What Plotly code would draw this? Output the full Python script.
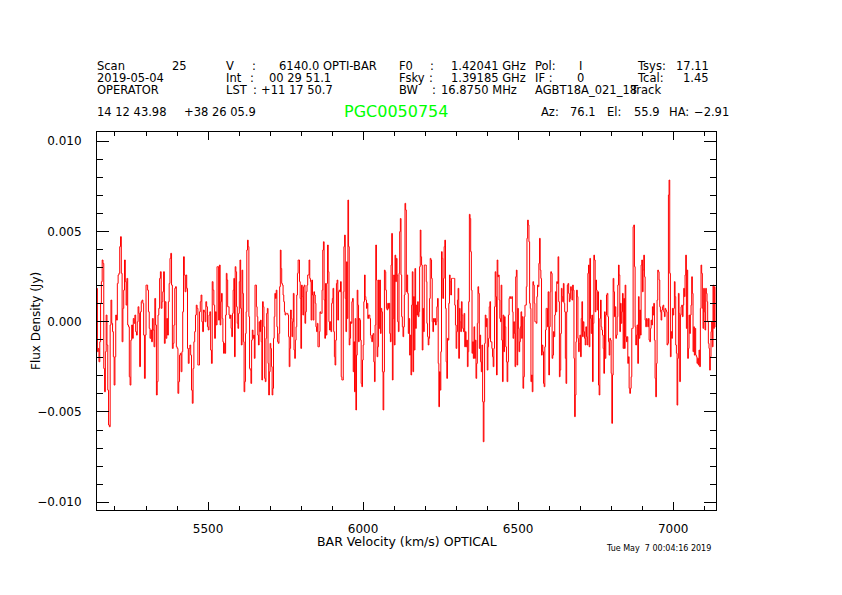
import numpy as np
import plotly.graph_objects as go

# spectrum in five pieces, flux in mJy
seg_edges = [5142, 5538, 5935, 6331, 6728, 7138]  # km/s

seg1_mjy = [1.85, -1.66, -1.48, -2.22, -1.11, 1.02, 2.22, 3.42, 3.23, -2.59,
            -3.88, -1.66, 0.37, -1.29, -3.79, -5.72, -5.82, -0.18, 1.20, -0.09,
            -0.55, -1.94, -3.51, -1.94, 0.37, 0.09, 2.12, 2.59, 2.68, 4.16,
            4.71, 2.68, -1.11, 0.74, 1.75, 3.42, 2.22, 0.92, 2.40, -0.18,
            -0.28, -3.05, -3.51, -1.02, -0.18, -0.92, 0.18, -0.09, 0.37, -0.55,
            -0.74, 0.00, 0.83, 0.46, -2.49, 0.55, 1.11, 1.20, 1.02, -0.74,
            -3.14, -0.74, 2.03, 2.03, 1.75, 0.55, -0.37, -0.92, -0.46, -1.11,
            0.18, -0.46, -1.39, 1.29, -0.18, -4.06, -3.32, 0.37, 0.74, 2.40,
            2.77, 0.74, 1.11, 1.66, 2.77, -1.20, 1.11, -0.92, 0.18, -0.74,
            1.11, 2.12, 3.51, 3.79, 2.03, -1.48, -1.20, -0.18, 1.85, 1.94,
            -1.39, -1.48, -3.97, -3.32, -1.85, -1.75, -2.77, -1.66, 0.55, 3.60,
            2.59, 1.66, 2.59, 1.85, -1.48, -2.31, -1.48, -1.29, -1.85, -3.79,
            -4.52, -2.59, -1.11, -0.55, 0.37, 0.92, 0.74, -2.40, -2.40, 0.55,
            1.11, 1.48, 0.00, -0.55, 0.65, 0.55, 0.00, 1.11, 0.83, -0.28,
            -0.46, 0.37, 0.55, -1.57, -2.31, 2.22, 1.75, 0.92, -0.92, 0.55,
            -0.18, 3.05, 3.05, 0.09]

seg2_mjy = [3.14, -0.18, 1.11, 1.57, 0.18, -1.11, -1.75, -1.20, -1.75, 0.37,
            2.68, 2.31, 0.83, 0.83, 0.37, 0.18, 0.37, -0.37, -0.83, 0.46,
            1.75, 2.40, -1.94, 3.05, 2.77, 0.83, -0.09, -0.37, 0.46, 2.22,
            3.42, 0.74, -1.29, 2.86, 1.57, -1.11, -3.88, -3.32, -0.65, 0.55,
            3.97, 4.52, 4.16, 0.28, -2.59, -2.68, -3.42, -1.02, -0.46, -0.92,
            -0.74, -2.03, 2.03, 2.03, 0.83, 0.28, -0.74, -1.29, 0.00, -0.55,
            0.09, -1.11, -3.23, 1.11, 0.83, -0.28, -3.14, -3.32, -0.92, 0.46,
            0.74, -2.31, -4.06, -2.77, -1.20, -1.48, -2.49, -4.06, -3.69, -0.92,
            0.28, 1.57, 1.29, 1.75, -0.28, -1.11, -1.20, -0.65, 1.94, 3.97,
            2.95, 2.12, 2.03, 1.48, 1.11, 0.55, 0.37, 0.46, 0.46, 0.46,
            0.37, -0.83, -2.49, -1.48, 0.65, 0.18, -0.83, 0.00, 1.57, -1.57,
            -2.03, -1.02, -0.28, 1.48, 2.68, 3.42, 3.42, 2.22, 1.29, -1.48,
            2.03, 1.39, 0.37, 1.94, 2.03, -0.09, 0.55, 1.66, 2.03, 2.59,
            2.59, 3.42, 2.40, 2.22, 0.09, 2.31, 1.48, 0.09, 1.66, 1.48,
            1.02, -0.28, -0.55, -0.09, -1.39, -1.39, -0.55, 0.55, 0.46, 0.46,
            1.75, 3.97, 4.43, 1.20, -0.92, 2.12, -0.74, 2.12, 4.25, 2.77,
            0.00, -0.46, 0.00, -0.55, 1.02, 1.29, 1.85, -0.55, -1.94, -2.40,
            -1.02, 2.12, 2.31, 0.09, 1.66, 1.75, 1.66, 2.22, -3.05, -3.23]

seg3_mjy = [-3.23, 1.66, 4.16, 4.80, 1.29, -0.55, 3.32, 0.18, 6.74, 4.16,
            -1.29, -0.92, 0.00, -0.09, 1.11, 1.29, -2.77, -1.11, -3.88, 0.18,
            -4.89, -1.85, 1.75, 0.92, -1.11, 0.18, 0.09, -1.02, -3.42, -3.60,
            -2.12, -1.29, 1.11, 2.59, 1.39, 1.20, 0.74, 1.02, 0.18, 0.37,
            0.37, 0.18, -0.74, -0.92, -1.11, -0.74, -0.65, -2.22, -3.32, -0.18,
            4.25, 2.31, -1.94, -1.39, 2.31, -0.37, 2.31, -0.65, 0.74, 0.55,
            -2.77, -4.89, -2.77, 2.86, 2.77, 1.75, 0.74, 0.65, 1.02, 0.74,
            1.02, -0.65, -1.11, 3.14, 4.89, -3.23, 0.18, 2.59, -1.29, 3.69,
            2.22, 3.51, 2.59, 0.00, -0.55, 2.68, 4.99, 5.72, 2.59, 0.28,
            -0.28, -0.83, -0.28, 1.48, 6.56, 6.19, 1.66, 2.59, 1.57, -0.65,
            0.18, -1.85, -0.74, -2.95, 0.92, 2.77, -2.77, 1.39, -1.57, 2.95,
            -0.37, 0.92, 0.37, 1.11, 0.28, 0.55, 3.05, 5.08, 3.60, 3.14,
            -1.57, 0.74, -0.55, 3.14, 3.14, 3.14, 2.22, -0.09, -0.83, -1.29,
            -0.92, 1.29, 3.51, 3.42, 2.40, 0.00, -0.55, 0.18, 0.00, 0.18,
            -0.18, 0.00, 0.83, 1.29, -2.31, -4.71, -2.77, -3.79, -1.66, 3.88,
            3.51, 1.29, 2.40, 4.16, 4.52, 0.74, -2.22, -3.14, -0.92, -1.02,
            1.02, 2.59, 2.22, 1.48, 2.40, 2.40, 2.40, 2.40, 2.40, 0.92,
            -0.18, -1.48, -0.55, 1.20, 1.85, -2.03, 0.74, 0.00, -0.55, 1.11,
            0.37, -0.37, -0.55, 0.46, -1.39]

seg4_mjy = [-0.55, -1.39, -1.02, -2.49, -1.66, 1.11, 5.95, 5.72, 3.88, 1.75,
            -1.75, -1.11, -2.03, -0.28, -2.03, -1.02, -3.14, -2.31, -0.09, 1.94,
            1.57, -1.48, -0.74, -2.22, -2.77, -1.29, -4.43, -6.65, -4.43, -1.20,
            0.37, -0.28, 0.18, -2.68, -1.39, -0.92, 0.83, 1.11, -1.11, -1.11,
            -1.48, -1.94, -2.49, -1.48, 0.83, 2.77, 1.39, -2.95, 3.42, 2.49,
            2.59, 1.20, 0.18, 0.00, 2.03, -1.02, -3.32, 0.37, -1.66, 0.28,
            -0.28, -1.39, -2.22, -3.32, -2.22, 0.37, 1.29, 1.39, 1.29, 1.29,
            1.39, 0.55, -0.92, 0.00, -0.65, -2.49, 2.49, 2.86, -2.40, 0.74,
            -0.37, -1.66, -1.11, -0.28, 0.55, -0.92, 0.28, -3.69, -3.05, 0.28,
            0.92, 0.92, 1.94, 4.62, 5.63, 5.36, 4.43, 1.02, 0.74, -3.32,
            -2.95, -3.88, 2.22, 2.03, 1.02, 0.00, 0.00, -0.09, 1.39, 2.03,
            1.94, 3.23, 4.62, 2.86, 2.40, -1.85, -1.29, -1.66, -3.42, -3.60,
            -1.39, -0.46, 0.74, 0.74, -0.28, 1.66, -2.95, -0.28, 1.66, 2.77,
            2.68, -2.03, -1.85, -0.55, -0.83, 0.37, 1.66, 0.55, 2.22, 2.12,
            3.60, 1.11, -3.05, -2.68, -0.65, 1.85, 1.39, 1.11, 2.12, 1.02,
            0.55, -2.03, -3.42, 0.55, 2.03, 2.12, 1.57, 1.11, 1.29, 1.94,
            1.75, 1.20, 2.03, 1.75, -2.03, -5.26, -4.06, -1.11, 1.75, 1.39,
            -0.92, -1.66, -1.20, -0.74, -1.94, 0.18, 1.11, -0.83, 0.00, -0.55,
            -0.92, -1.29, -0.28, -0.83, -1.29, 2.68]

seg5_mjy = [3.14, -1.39, 3.51, 0.18, -0.65, 0.37, -3.32, -0.09, 3.69, 3.42,
            0.55, 2.31, 1.75, 0.65, 1.66, -3.51, -4.06, 0.18, 1.20, -0.28,
            -0.46, -0.74, -1.48, -2.86, 0.55, -2.03, 0.37, 1.48, 1.57, 0.28,
            -1.11, -1.85, -0.92, -1.02, -2.86, -5.63, -2.95, 2.40, 1.66, 0.28,
            0.83, -0.92, -0.74, 0.28, 2.03, 3.14, 2.59, -0.55, 1.02, -0.09,
            0.55, 1.57, -1.48, 1.29, -1.48, 2.03, -0.83, -1.11, -0.83, -2.31,
            -1.94, -3.69, -3.97, -3.69, -3.05, -0.37, -0.37, 5.26, 5.36, 3.05,
            -0.28, -1.29, -0.74, -0.18, -2.31, 1.39, -0.92, 0.65, -0.74, 3.14,
            3.42, 1.66, 2.86, 3.69, 2.49, 0.09, -0.28, 0.18, 0.09, -0.28,
            0.18, -1.02, -1.11, -0.37, 0.09, -0.18, 0.83, 0.37, 1.02, -1.02,
            -3.14, -4.16, -2.31, 1.20, 2.86, 2.77, 2.31, 0.83, 0.55, 0.09,
            0.65, 0.83, 0.92, 0.55, 0.28, 0.74, 0.65, 0.55, -1.29, -1.20,
            7.02, 7.85, 2.68, -1.94, -0.55, -0.92, 0.74, 0.37, 0.74, 2.22,
            1.39, -1.29, -1.75, -4.62, -2.03, 1.57, 0.46, -3.32, 0.37, 0.83,
            0.92, 0.28, 0.92, 1.85, 1.39, 2.59, 3.69, -0.37, 2.86, -2.03,
            -1.48, 0.37, -0.65, 0.37, 0.92, 2.49, 1.57, -1.66, -0.28, -1.85,
            -0.37, -1.85, -1.94, -2.31, -2.03, -2.40, -1.57, -2.49, 0.74, 3.14,
            2.68, 0.74, -0.37, 1.85, 0.55, -0.46, 1.85, 1.57, 1.11, 0.00,
            -1.20, -1.48, -2.68, -1.94, -0.55, 0.00, -1.39, 2.03, -0.37, 1.94,
            -0.28]

segs = [seg1_mjy, seg2_mjy, seg3_mjy, seg4_mjy, seg5_mjy]

x_ticks = [5500, 6000, 6500, 7000]
y_ticks = [-0.010, -0.005, 0.0, 0.005, 0.010]
y_tick_text = ["\u22120.010", "\u22120.005", "0.000", "0.005", "0.010"]

# channel grid for each piece
velocity = np.concatenate([
    np.linspace(seg_edges[i], seg_edges[i + 1], len(s), endpoint=False)
    for i, s in enumerate(segs)
])
flux = np.concatenate([np.array(s) for s in segs]) / 1000.0

# page body has an 8px margin, so the figure sits 8px in from the corner
OFF = 8
W, H = 842, 595
L, R, T, B = 97 - OFF, 842 - 716 + OFF, 132 - OFF, 595 - 510 + OFF
pw, ph = W - L - R, H - T - B
FONT = "DejaVu Sans"


def paper(px, py):
    # screen pixel -> paper coords
    return (px - OFF - L) / pw, (H - B - (py - OFF)) / ph


fig = go.Figure()
fig.add_trace(go.Scatter(
    x=velocity, y=flux, mode="lines", line_shape="hvh",
    line=dict(color="#ff0000", width=1), hoverinfo="skip", showlegend=False,
))

# header block (text, left x, centre y) in screen pixels
header = [
    ("Scan", 95, 66), ("25", 170, 66), ("V", 224, 66), (":", 250, 66),
    ("6140.0 OPTI-BAR", 277, 66), ("F0", 397, 66), (":", 428, 66),
    ("1.42041 GHz", 449, 66), ("Pol:", 533, 66), ("I", 577, 66),
    ("Tsys:", 635, 66),
    ("2019-05-04", 95, 78), ("Int", 224, 78), (":", 248, 78),
    ("00 29 51.1", 267, 78), ("Fsky", 397, 78), (":", 427, 78),
    ("1.39185 GHz", 449, 78), ("IF :", 533, 78), ("0", 575, 78),
    ("Tcal:", 635, 78),
    ("OPERATOR", 95, 90), ("LST", 224, 90), (":", 251, 90),
    ("+11 17 50.7", 259, 90), ("BW", 397, 90), (":", 430, 90),
    ("16.8750 MHz", 439, 90), ("AGBT18A_021_18", 533, 90), ("Track", 628, 90),
    ("14 12 43.98", 95, 112), ("+38 26 05.9", 182, 112),
    ("Az:", 539, 112), ("76.1", 568, 112), ("El:", 605, 112),
    ("55.9", 632, 112), ("HA:", 667, 112), ("\u22122.91", 692, 112),
]
right_items = [("17.11", 711, 66), ("1.45", 711, 78)]


def note(text, px, py, anchor="left", size=11.5, color="black", angle=0):
    ax, ay = paper(px, py)
    return dict(text=text, x=ax, y=ay, xref="paper", yref="paper",
                xanchor=anchor, yanchor="middle", showarrow=False,
                textangle=angle, font=dict(family=FONT, size=size, color=color))


annotations = [note(t, x, y) for t, x, y in header]
annotations += [note(t, x, y, anchor="right") for t, x, y in right_items]
annotations.append(note("PGC0050754", 395.5, 112, anchor="center", size=16,
                        color="#00ff00"))
annotations.append(note("BAR Velocity (km/s) OPTICAL", 406.5, 541,
                        anchor="center", size=12.5))
annotations.append(note("Flux Density (Jy)", 36, 321, anchor="center",
                        size=12, angle=-90))
annotations.append(note("Tue May  7 00:04:16 2019", 713, 548, anchor="right",
                        size=8))

fig.update_layout(
    width=W, height=H,
    margin=dict(l=L, r=R, t=T, b=B, pad=0),
    paper_bgcolor="white", plot_bgcolor="white",
    annotations=annotations,
    font=dict(family=FONT, size=12, color="black"),
)

fig.update_xaxes(
    range=[seg_edges[0], seg_edges[-1]],
    tickvals=x_ticks, ticktext=[str(v) for v in x_ticks],
    ticks="inside", ticklen=8, tickwidth=1, tickcolor="black",
    minor=dict(dtick=100, tick0=5000, ticks="inside", ticklen=4,
               tickcolor="black", tickwidth=1),
    showline=True, linecolor="black", linewidth=1, mirror="ticks",
    showgrid=False, zeroline=False, ticklabelstandoff=8,
    tickfont=dict(family=FONT, size=12, color="black"),
)
fig.update_yaxes(
    range=[-0.01043, 0.01051],
    tickvals=y_ticks, ticktext=y_tick_text,
    ticks="inside", ticklen=12, tickwidth=1, tickcolor="black",
    minor=dict(dtick=0.001, tick0=0, ticks="inside", ticklen=6,
               tickcolor="black", tickwidth=1),
    showline=True, linecolor="black", linewidth=1, mirror="ticks",
    showgrid=False, zeroline=False, ticklabelstandoff=12,
    tickfont=dict(family=FONT, size=12, color="black"),
)

fig.write_html("out.html", config={"displayModeBar": False})
